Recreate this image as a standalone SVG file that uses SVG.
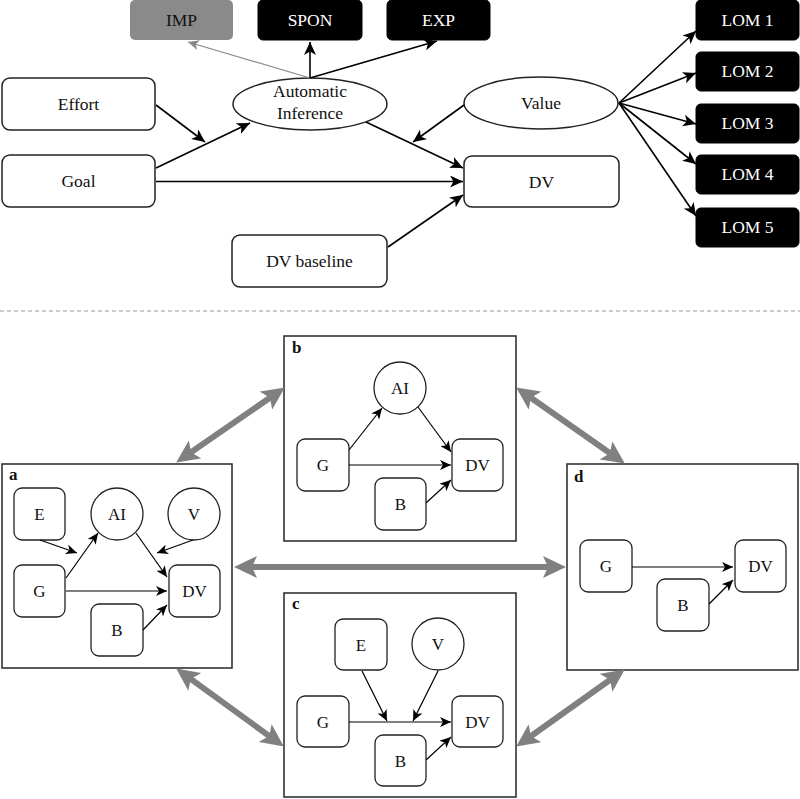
<svg xmlns="http://www.w3.org/2000/svg" width="800" height="799" viewBox="0 0 800 799">
<style>
.box{fill:#fff;stroke:#222;stroke-width:1.5}
.blk{fill:#000;stroke:#000}
.t{font-family:'Liberation Serif','DejaVu Serif',serif;font-size:17.5px;fill:#111;text-anchor:middle}
.tw{font-family:'Liberation Serif','DejaVu Serif',serif;font-size:17.5px;fill:#fff;text-anchor:middle}
.s{font-family:'Liberation Serif','DejaVu Serif',serif;font-size:17px;fill:#111;text-anchor:middle}
.lbl{font-family:'Liberation Serif','DejaVu Serif',serif;font-size:17px;font-weight:bold;fill:#111}
.panel{fill:#fff;stroke:#333;stroke-width:1.6}
.sn{fill:#fff;stroke:#222;stroke-width:1.3}
.a1{stroke:#000;stroke-width:1.6;fill:none;marker-end:url(#ah)}
.a2{stroke:#000;stroke-width:1.2;fill:none;marker-end:url(#ahs)}
.g{stroke:#808080;stroke-width:6;fill:none;marker-start:url(#gh);marker-end:url(#gh)}
</style>
<defs>
<marker id="ah" markerUnits="userSpaceOnUse" markerWidth="14" markerHeight="12" viewBox="0 0 14 12" refX="13" refY="6" orient="auto">
<path d="M0,0 L13,6 L0,12 L3.5,6 z" fill="#000"/>
</marker>
<marker id="ahs" markerUnits="userSpaceOnUse" markerWidth="12" markerHeight="10" viewBox="0 0 12 10" refX="11" refY="5" orient="auto">
<path d="M0,0 L11,5 L0,10 L3,5 z" fill="#000"/>
</marker>
<marker id="ahg" markerUnits="userSpaceOnUse" markerWidth="12" markerHeight="10" viewBox="0 0 12 10" refX="11" refY="5" orient="auto">
<path d="M0,0 L11,5 L0,10 L3,5 z" fill="#888"/>
</marker>
<marker id="gh" markerUnits="userSpaceOnUse" markerWidth="24" markerHeight="22" viewBox="0 0 24 22" refX="12" refY="11" orient="auto-start-reverse">
<path d="M0,0 L23,11 L0,22 L5,11 z" fill="#808080"/>
</marker>
</defs>

<!-- top section nodes -->
<g id="imp"><rect x="130" y="0" width="103" height="40" rx="5" fill="#8a8a8a"/><text class="t" x="181.5" y="26" fill="#222">IMP</text></g>
<g id="spon"><rect class="blk" x="258" y="0" width="104" height="40" rx="5"/><text class="tw" x="310" y="26">SPON</text></g>
<g id="exp"><rect class="blk" x="387" y="0" width="103" height="40" rx="5"/><text class="tw" x="438.5" y="26">EXP</text></g>
<g id="lom1"><rect class="blk" x="696" y="0" width="103" height="40" rx="5"/><text class="tw" x="747.5" y="26">LOM 1</text></g>
<g id="lom2"><rect class="blk" x="696" y="52" width="103" height="39" rx="5"/><text class="tw" x="747.5" y="77">LOM 2</text></g>
<g id="lom3"><rect class="blk" x="696" y="104" width="103" height="39" rx="5"/><text class="tw" x="747.5" y="129">LOM 3</text></g>
<g id="lom4"><rect class="blk" x="696" y="155" width="103" height="39" rx="5"/><text class="tw" x="747.5" y="180">LOM 4</text></g>
<g id="lom5"><rect class="blk" x="696" y="208" width="103" height="39" rx="5"/><text class="tw" x="747.5" y="233">LOM 5</text></g>
<g id="effort"><rect class="box" x="2" y="78" width="153" height="52" rx="8"/><text class="t" x="78.5" y="110">Effort</text></g>
<g id="goal"><rect class="box" x="2" y="155" width="153" height="52" rx="8"/><text class="t" x="78.5" y="187">Goal</text></g>
<g id="ai"><ellipse class="box" cx="310" cy="104" rx="77" ry="26"/><text class="t" x="310" y="97">Automatic</text><text class="t" x="310" y="119">Inference</text></g>
<g id="value"><ellipse class="box" cx="541" cy="103" rx="77" ry="26"/><text class="t" x="541" y="109">Value</text></g>
<g id="dv"><rect class="box" x="464" y="156" width="155" height="51" rx="8"/><text class="t" x="541.5" y="188">DV</text></g>
<g id="dvbase"><rect class="box" x="232" y="235" width="155" height="52" rx="8"/><text class="t" x="309.5" y="267">DV baseline</text></g>

<!-- top connectors -->
<g id="top-connectors">
<line x1="310" y1="78" x2="188" y2="42" stroke="#8a8a8a" stroke-width="1.2" marker-end="url(#ahg)"/>
<line class="a1" x1="310" y1="78" x2="310" y2="42"/>
<line class="a1" x1="310" y1="78" x2="437" y2="41"/>
<line class="a1" x1="156" y1="105" x2="205" y2="142"/>
<line class="a1" x1="156" y1="168" x2="250" y2="123"/>
<line class="a1" x1="156" y1="181.5" x2="463" y2="181.5"/>
<line class="a1" x1="366" y1="122" x2="463" y2="168"/>
<line class="a1" x1="464" y1="105" x2="413" y2="142"/>
<line class="a1" x1="388" y1="247" x2="463" y2="195"/>
<line class="a1" x1="619" y1="103" x2="696" y2="31"/>
<line class="a1" x1="619" y1="103" x2="696" y2="73"/>
<line class="a1" x1="619" y1="103" x2="696" y2="124"/>
<line class="a1" x1="619" y1="103" x2="696" y2="164"/>
<line class="a1" x1="619" y1="103" x2="696" y2="216"/>
</g>

<line x1="0" y1="311" x2="800" y2="311" stroke="#999" stroke-width="1.2" stroke-dasharray="4,3"/>

<!-- panels -->
<g id="panel-a">
<rect class="panel" x="2" y="464" width="230" height="204"/>
<text class="lbl" x="9" y="480">a</text>
<g id="a-e"><rect class="sn" x="14" y="488" width="51" height="52" rx="8"/><text class="s" x="39.5" y="520">E</text></g>
<g id="a-ai"><circle class="sn" cx="117" cy="514" r="26"/><text class="s" x="117" y="520">AI</text></g>
<g id="a-v"><circle class="sn" cx="194" cy="514" r="26"/><text class="s" x="194" y="520">V</text></g>
<g id="a-g"><rect class="sn" x="14" y="565" width="51" height="52" rx="8"/><text class="s" x="39.5" y="597">G</text></g>
<g id="a-dv"><rect class="sn" x="169" y="565" width="51" height="52" rx="8"/><text class="s" x="194.5" y="597">DV</text></g>
<g id="a-b"><rect class="sn" x="91" y="604" width="52" height="52" rx="8"/><text class="s" x="117" y="636">B</text></g>
</g>
<g id="panel-b">
<rect class="panel" x="284" y="336" width="232" height="205"/>
<text class="lbl" x="292" y="353">b</text>
<g id="b-ai"><circle class="sn" cx="400" cy="388" r="26"/><text class="s" x="400" y="394">AI</text></g>
<g id="b-g"><rect class="sn" x="297" y="439" width="52" height="52" rx="8"/><text class="s" x="323" y="471">G</text></g>
<g id="b-dv"><rect class="sn" x="452" y="439" width="51" height="52" rx="8"/><text class="s" x="477.5" y="471">DV</text></g>
<g id="b-b"><rect class="sn" x="375" y="478" width="51" height="52" rx="8"/><text class="s" x="400.5" y="510">B</text></g>
</g>
<g id="panel-c">
<rect class="panel" x="284" y="593" width="232" height="204"/>
<text class="lbl" x="292" y="609">c</text>
<g id="c-e"><rect class="sn" x="335" y="619" width="52" height="51" rx="8"/><text class="s" x="361" y="651">E</text></g>
<g id="c-v"><circle class="sn" cx="438" cy="644" r="26"/><text class="s" x="438" y="650">V</text></g>
<g id="c-g"><rect class="sn" x="297" y="696" width="52" height="51" rx="8"/><text class="s" x="323" y="728">G</text></g>
<g id="c-dv"><rect class="sn" x="452" y="696" width="51" height="51" rx="8"/><text class="s" x="477.5" y="728">DV</text></g>
<g id="c-b"><rect class="sn" x="375" y="735" width="51" height="51" rx="8"/><text class="s" x="400.5" y="767">B</text></g>
</g>
<g id="panel-d">
<rect class="panel" x="567" y="464" width="231" height="206"/>
<text class="lbl" x="574" y="482">d</text>
<g id="d-g"><rect class="sn" x="580" y="540" width="52" height="52" rx="8"/><text class="s" x="606" y="572">G</text></g>
<g id="d-dv"><rect class="sn" x="735" y="540" width="51" height="52" rx="8"/><text class="s" x="760.5" y="572">DV</text></g>
<g id="d-b"><rect class="sn" x="657" y="579" width="52" height="52" rx="8"/><text class="s" x="683" y="611">B</text></g>
</g>

<!-- panel connectors -->
<g id="panel-connectors">
<line class="a2" x1="40" y1="540" x2="77" y2="553"/>
<line class="a2" x1="66" y1="578" x2="98" y2="533"/>
<line class="a2" x1="136" y1="533" x2="167" y2="577"/>
<line class="a2" x1="193" y1="540" x2="157" y2="553"/>
<line class="a2" x1="66" y1="591" x2="167" y2="591"/>
<line class="a2" x1="143" y1="630" x2="167" y2="605"/>

<line class="a2" x1="349" y1="450" x2="382" y2="408"/>
<line class="a2" x1="418" y1="407" x2="451" y2="452"/>
<line class="a2" x1="349" y1="465" x2="451" y2="465"/>
<line class="a2" x1="426" y1="503" x2="451" y2="480"/>

<line class="a2" x1="349" y1="722" x2="451" y2="722"/>
<line class="a2" x1="362" y1="671" x2="387" y2="721"/>
<line class="a2" x1="438" y1="671" x2="413" y2="721"/>
<line class="a2" x1="426" y1="760" x2="451" y2="737"/>

<line class="a2" x1="632" y1="567" x2="733" y2="567"/>
<line class="a2" x1="709" y1="604" x2="733" y2="580"/>
</g>

<!-- gray double arrows -->
<g id="panel-links">
<line class="g" x1="185.2" y1="456.3" x2="275.8" y2="393.7"/>
<line class="g" x1="525.2" y1="393.7" x2="615.8" y2="457.3"/>
<line class="g" x1="245" y1="567" x2="555" y2="567"/>
<line class="g" x1="185.1" y1="674.9" x2="274.9" y2="740.1"/>
<line class="g" x1="525.2" y1="740.2" x2="615.8" y2="675.8"/>
</g>
</svg>
